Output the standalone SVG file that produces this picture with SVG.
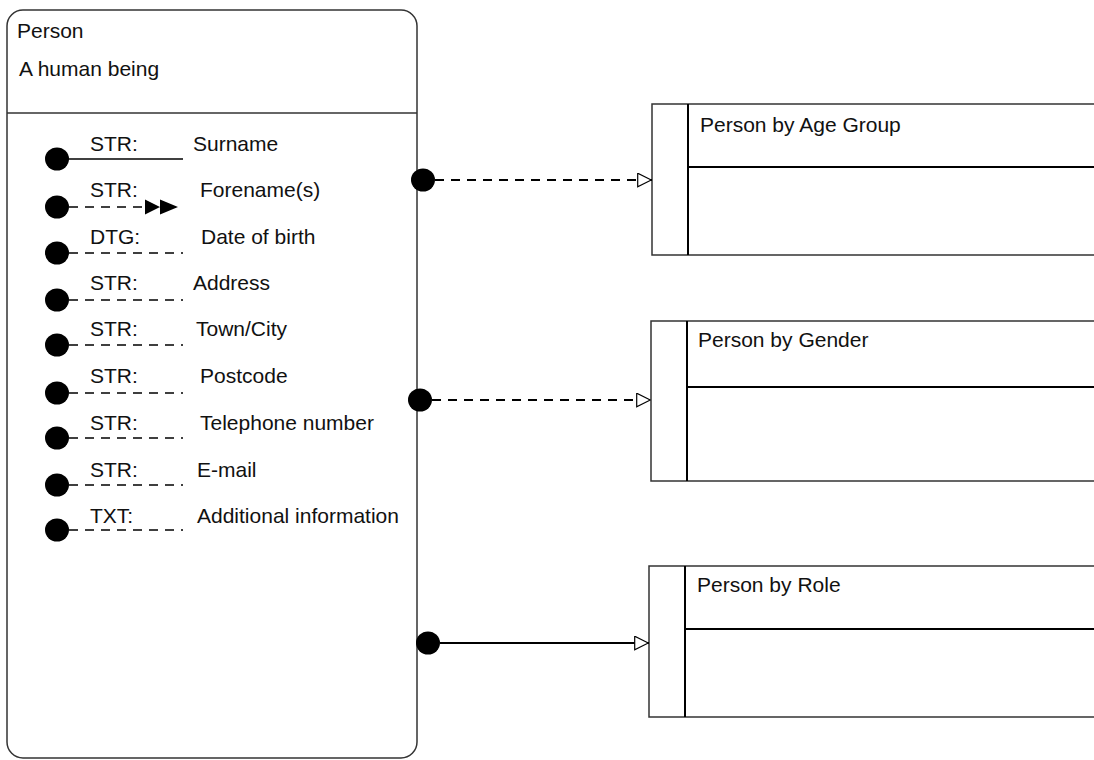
<svg xmlns="http://www.w3.org/2000/svg" width="1094" height="760" viewBox="0 0 1094 760">
  <style>
    text { font-family: "Liberation Sans", Arial, sans-serif; font-size: 21px; fill: #111; }
    .box { fill: #fff; stroke: #333; stroke-width: 1.5; }
    .rule { stroke: #333; stroke-width: 1.5; fill: none; }
    .inner { stroke: #000; stroke-width: 2; fill: none; }
    .attr { stroke: #000; stroke-width: 1.5; fill: none; }
    .dash { stroke-dasharray: 9 7; }
    .dot { fill: #000; }
    .link { stroke: #000; stroke-width: 1.8; fill: none; }
  </style>
  <defs>
    <marker id="hollow" viewBox="0 0 15 15" refX="15" refY="7.5" markerWidth="15" markerHeight="15" markerUnits="userSpaceOnUse" orient="auto">
      <path d="M0.7,0.7 L14.3,7.5 L0.7,14.3 Z" fill="#fff" stroke="#000" stroke-width="1.2"/>
    </marker>
  </defs>

  <!-- Person entity -->
  <g id="person">
    <rect class="box" x="7" y="10" width="410" height="748" rx="16" ry="16"/>
    <line class="rule" x1="7" y1="113" x2="417" y2="113"/>
    <text x="17" y="38">Person</text>
    <text x="19" y="76">A human being</text>

    <g id="attr-surname">
      <ellipse class="dot" cx="57" cy="159" rx="12" ry="11.5"/>
      <line class="attr" x1="68" y1="159" x2="183" y2="159"/>
      <text x="90" y="151">STR:</text>
      <text x="193" y="151">Surname</text>
    </g>
    <g id="attr-forename">
      <ellipse class="dot" cx="57" cy="207" rx="12" ry="11.5"/>
      <line class="attr dash" x1="69" y1="207" x2="145" y2="207"/>
      <path d="M145,199.5 L160,207 L145,214.5 Z M160,199.5 L178,207 L160,214.5 Z" fill="#000"/>
      <text x="90" y="197">STR:</text>
      <text x="200" y="197">Forename(s)</text>
    </g>
    <g id="attr-dob">
      <ellipse class="dot" cx="57" cy="253" rx="12" ry="11.5"/>
      <line class="attr dash" x1="69" y1="253" x2="183" y2="253"/>
      <text x="90" y="244">DTG:</text>
      <text x="201" y="244">Date of birth</text>
    </g>
    <g id="attr-address">
      <ellipse class="dot" cx="57" cy="300" rx="12" ry="11.5"/>
      <line class="attr dash" x1="69" y1="300" x2="183" y2="300"/>
      <text x="90" y="290">STR:</text>
      <text x="193" y="290">Address</text>
    </g>
    <g id="attr-town">
      <ellipse class="dot" cx="57" cy="345" rx="12" ry="11.5"/>
      <line class="attr dash" x1="69" y1="345" x2="183" y2="345"/>
      <text x="90" y="336">STR:</text>
      <text x="196" y="336">Town/City</text>
    </g>
    <g id="attr-postcode">
      <ellipse class="dot" cx="57" cy="393" rx="12" ry="11.5"/>
      <line class="attr dash" x1="69" y1="393" x2="183" y2="393"/>
      <text x="90" y="383">STR:</text>
      <text x="200" y="383">Postcode</text>
    </g>
    <g id="attr-telephone">
      <ellipse class="dot" cx="57" cy="438" rx="12" ry="11.5"/>
      <line class="attr dash" x1="69" y1="438" x2="183" y2="438"/>
      <text x="90" y="430">STR:</text>
      <text x="200" y="430">Telephone number</text>
    </g>
    <g id="attr-email">
      <ellipse class="dot" cx="57" cy="485" rx="12" ry="11.5"/>
      <line class="attr dash" x1="69" y1="485" x2="183" y2="485"/>
      <text x="90" y="477">STR:</text>
      <text x="197" y="477">E-mail</text>
    </g>
    <g id="attr-additional">
      <ellipse class="dot" cx="57" cy="530" rx="12" ry="11.5"/>
      <line class="attr dash" x1="69" y1="530" x2="183" y2="530"/>
      <text x="90" y="523">TXT:</text>
      <text x="197" y="523">Additional information</text>
    </g>
  </g>

  <!-- Grouping entities -->
  <g id="age-group">
    <path class="box" d="M1100,104 H652 V255 H1100"/>
    <line class="inner" x1="688" y1="104" x2="688" y2="255"/>
    <line class="inner" x1="688" y1="167" x2="1100" y2="167"/>
    <text x="700" y="132">Person by Age Group</text>
  </g>
  <g id="gender">
    <path class="box" d="M1100,321 H651 V481 H1100"/>
    <line class="inner" x1="687" y1="321" x2="687" y2="481"/>
    <line class="inner" x1="687" y1="387" x2="1100" y2="387"/>
    <text x="698" y="347">Person by Gender</text>
  </g>
  <g id="role">
    <path class="box" d="M1100,566 H649 V717 H1100"/>
    <line class="inner" x1="685" y1="566" x2="685" y2="717"/>
    <line class="inner" x1="685" y1="629" x2="1100" y2="629"/>
    <text x="697" y="592">Person by Role</text>
  </g>

  <!-- Connectors -->
  <g id="connectors">
    <line class="link dash" x1="435" y1="180" x2="652" y2="180" marker-end="url(#hollow)"/>
    <ellipse class="dot" cx="423" cy="180" rx="12" ry="11.5"/>
    <line class="link dash" x1="432" y1="400" x2="651" y2="400" marker-end="url(#hollow)"/>
    <ellipse class="dot" cx="420" cy="400" rx="12" ry="11.5"/>
    <line class="link" x1="440" y1="643" x2="649" y2="643" marker-end="url(#hollow)"/>
    <ellipse class="dot" cx="428" cy="643" rx="12" ry="11.5"/>
  </g>
</svg>
